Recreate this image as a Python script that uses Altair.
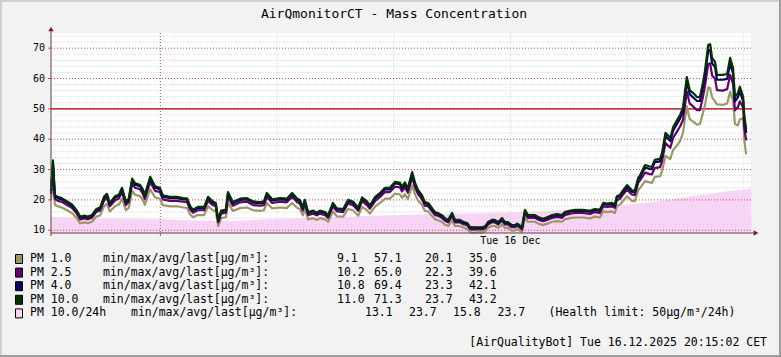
import altair as alt
import pandas as pd

# ---------------- data ----------------
# minutes since the start of the window (Mon 15.12.2025 20:15)
minutes = [
    0, 4, 8, 14, 23, 33, 43, 53, 60, 70,
    76, 84, 93, 101, 109, 115, 121, 132, 140, 146,
    154, 160, 167, 173, 183, 189, 193, 204, 214, 224,
    230, 245, 259, 272, 280, 286, 292, 302, 315, 323,
    333, 339, 344, 350, 360, 364, 374, 389, 403, 416,
    430, 438, 444, 455, 471, 485, 496, 506, 512, 518,
    522, 529, 539, 547, 553, 564, 570, 580, 588, 601,
    611, 621, 632, 640, 650, 656, 667, 677, 687, 697,
    708, 718, 722, 728, 734, 743, 749, 755, 763, 769,
    776, 782, 790, 796, 804, 810, 817, 825, 831, 841,
    848, 856, 862, 868, 878, 887, 893, 899, 907, 913,
    920, 928, 934, 940, 948, 954, 959, 969, 975, 981,
    996, 1002, 1012, 1022, 1031, 1041, 1051, 1057, 1068, 1078,
    1094, 1109, 1119, 1129, 1136, 1144, 1154, 1160, 1164, 1170,
    1177, 1185, 1195, 1201, 1208, 1212, 1222, 1232, 1236, 1242,
    1253, 1257, 1264, 1274, 1280, 1288, 1294, 1300, 1308, 1314,
    1321, 1329, 1335, 1341, 1345, 1352, 1356, 1360, 1366, 1370,
    1382, 1391, 1397, 1403, 1407, 1413, 1417, 1424, 1426, 1430,
]

pm10_0 = [
    23.3, 33.0, 21.6, 21.0, 20.5, 19.5, 18.5, 16.5, 14.5, 14.8,
    14.5, 15.0, 17.0, 17.5, 21.0, 22.0, 19.0, 21.2, 21.8, 24.0,
    19.5, 20.5, 27.0, 25.5, 25.0, 23.5, 21.6, 27.6, 24.5, 24.0,
    21.5, 21.0, 21.0, 20.6, 20.5, 18.0, 16.8, 17.7, 17.7, 21.0,
    19.5, 19.0, 13.4, 16.5, 16.8, 22.6, 19.3, 20.4, 20.6, 19.5,
    19.3, 19.5, 22.3, 20.2, 20.6, 20.4, 22.3, 20.5, 20.0, 17.5,
    20.0, 16.0, 16.5, 15.8, 16.5, 16.0, 15.0, 19.0, 17.2, 17.0,
    20.0, 19.5, 17.4, 20.8, 19.5, 18.2, 21.0, 22.3, 24.0, 24.0,
    26.0, 25.6, 24.3, 25.8, 23.8, 29.2, 25.6, 23.3, 21.6, 19.3,
    19.0, 17.7, 16.0, 15.7, 15.0, 14.0, 13.4, 15.7, 13.4, 13.4,
    12.8, 12.4, 11.1, 11.0, 11.0, 11.0, 11.3, 12.7, 13.4, 13.4,
    12.7, 14.0, 12.7, 12.7, 11.7, 11.7, 12.2, 11.0, 16.7, 15.0,
    15.0, 14.4, 13.8, 14.4, 15.0, 15.3, 15.0, 16.0, 16.5, 16.7,
    16.7, 16.4, 17.0, 16.7, 19.0, 18.8, 19.0, 18.5, 21.2, 21.6,
    23.2, 24.9, 23.2, 23.0, 27.3, 28.2, 31.5, 31.0, 30.9, 33.2,
    33.5, 35.5, 42.1, 40.4, 44.0, 46.3, 48.0, 50.3, 60.5, 56.2,
    55.2, 53.9, 53.9, 58.5, 62.2, 71.1, 71.3, 66.8, 65.5, 61.2,
    61.2, 61.5, 66.8, 63.5, 53.9, 55.2, 57.3, 53.9, 48.0, 43.2,
]

pm4_0 = [
    22.9, 32.3, 21.2, 20.6, 20.1, 19.1, 18.1, 16.2, 14.2, 14.5,
    14.2, 14.7, 16.7, 17.2, 20.6, 21.6, 18.6, 20.8, 21.4, 23.5,
    19.1, 20.1, 26.5, 25.0, 24.5, 23.0, 21.2, 27.0, 24.0, 23.5,
    21.1, 20.6, 20.6, 20.2, 20.1, 17.6, 16.5, 17.3, 17.3, 20.6,
    19.1, 18.6, 13.1, 16.2, 16.5, 22.1, 18.9, 20.0, 20.2, 19.1,
    18.9, 19.1, 21.9, 19.8, 20.2, 20.0, 21.9, 20.1, 19.6, 17.2,
    19.6, 15.7, 16.2, 15.5, 16.2, 15.7, 14.7, 18.6, 16.9, 16.7,
    19.6, 19.1, 17.1, 20.4, 19.1, 17.8, 20.6, 21.9, 23.5, 23.5,
    25.5, 25.1, 23.8, 25.3, 23.3, 28.6, 25.1, 22.8, 21.2, 18.9,
    18.6, 17.3, 15.7, 15.4, 14.7, 13.7, 13.1, 15.4, 13.1, 13.1,
    12.5, 12.2, 10.9, 10.8, 10.8, 10.8, 11.1, 12.4, 13.1, 13.1,
    12.4, 13.7, 12.4, 12.4, 11.5, 11.5, 12.0, 10.8, 16.4, 14.7,
    14.7, 14.1, 13.5, 14.1, 14.7, 15.0, 14.7, 15.7, 16.2, 16.4,
    16.4, 16.1, 16.7, 16.4, 18.6, 18.4, 18.6, 18.1, 20.8, 21.2,
    22.7, 24.4, 22.7, 22.5, 26.8, 27.6, 30.7, 30.2, 30.1, 32.4,
    32.7, 34.6, 41.0, 39.4, 42.9, 45.1, 46.8, 49.0, 59.0, 54.8,
    53.8, 52.6, 52.6, 57.0, 60.6, 69.3, 69.4, 65.0, 63.8, 59.6,
    59.6, 59.9, 65.0, 61.8, 52.5, 53.8, 55.8, 52.5, 46.8, 42.1,
]

pm2_5 = [
    21.9, 30.8, 20.3, 19.7, 19.3, 18.3, 17.4, 15.5, 13.6, 13.9,
    13.6, 14.1, 16.0, 16.5, 19.7, 20.7, 17.9, 19.9, 20.5, 22.6,
    18.3, 19.3, 25.4, 24.0, 23.5, 22.1, 20.3, 25.9, 23.0, 22.6,
    20.2, 19.7, 19.7, 19.4, 19.3, 16.9, 15.8, 16.6, 16.6, 19.7,
    18.3, 17.9, 12.6, 15.5, 15.8, 21.2, 18.1, 19.2, 19.4, 18.3,
    18.1, 18.3, 21.0, 19.0, 19.4, 19.2, 21.0, 19.3, 18.8, 16.5,
    18.8, 15.0, 15.5, 14.9, 15.5, 15.0, 14.1, 17.9, 16.2, 16.0,
    18.8, 18.3, 16.4, 19.6, 18.3, 17.1, 19.7, 21.0, 22.6, 22.6,
    24.4, 24.1, 22.8, 24.3, 22.4, 27.4, 24.1, 21.9, 20.3, 18.1,
    17.9, 16.6, 15.0, 14.8, 14.1, 13.2, 12.6, 14.8, 12.6, 12.6,
    12.0, 11.7, 10.4, 10.2, 10.3, 10.3, 10.6, 11.9, 12.6, 12.6,
    11.9, 13.2, 11.9, 11.9, 11.0, 11.0, 11.5, 10.3, 15.7, 14.1,
    14.1, 13.5, 13.0, 13.5, 14.1, 14.4, 14.1, 15.0, 15.5, 15.7,
    15.7, 15.4, 16.0, 15.7, 17.9, 17.7, 17.9, 17.4, 19.9, 20.3,
    21.8, 23.4, 21.8, 21.6, 25.7, 26.5, 29.0, 28.5, 28.4, 30.5,
    30.8, 32.7, 38.7, 37.2, 40.5, 42.6, 44.2, 46.3, 55.7, 51.7,
    50.8, 49.6, 49.6, 53.8, 57.2, 64.8, 65.0, 61.0, 59.9, 56.2,
    56.0, 56.5, 61.2, 58.3, 49.5, 50.6, 52.5, 50.5, 44.0, 39.6,
]

pm1_0 = [
    19.8, 27.9, 18.4, 17.9, 17.4, 16.6, 15.7, 14.0, 12.3, 12.6,
    12.3, 12.8, 14.5, 14.9, 17.9, 18.7, 16.2, 18.0, 18.5, 20.4,
    16.6, 17.4, 23.0, 21.7, 21.3, 20.0, 18.4, 23.5, 20.8, 20.4,
    18.3, 17.9, 17.9, 17.5, 17.4, 15.3, 14.3, 15.0, 15.0, 17.9,
    16.6, 16.2, 11.4, 14.0, 14.3, 19.2, 16.4, 17.3, 17.5, 16.6,
    16.4, 16.6, 19.0, 17.2, 17.5, 17.3, 19.0, 17.4, 17.0, 14.9,
    17.0, 13.6, 14.0, 13.4, 14.0, 13.6, 12.8, 16.2, 14.6, 14.5,
    17.0, 16.6, 14.8, 17.7, 16.6, 15.5, 17.9, 19.0, 20.4, 20.4,
    22.1, 21.8, 20.7, 21.9, 20.2, 24.8, 21.8, 19.8, 18.4, 16.4,
    16.2, 15.0, 13.6, 13.3, 12.8, 11.9, 11.4, 13.3, 11.4, 11.4,
    10.9, 10.5, 9.4, 9.1, 9.3, 9.3, 9.6, 10.8, 11.4, 11.4,
    10.8, 11.9, 10.8, 10.8, 9.9, 9.9, 10.4, 9.4, 14.2, 12.8,
    12.8, 12.2, 11.7, 12.2, 12.8, 13.0, 12.8, 13.6, 14.0, 14.2,
    14.2, 13.9, 14.5, 14.2, 16.2, 16.0, 16.2, 15.7, 18.0, 18.4,
    19.7, 21.2, 19.7, 19.6, 23.2, 24.0, 26.2, 25.8, 25.6, 27.6,
    27.8, 29.5, 34.5, 33.5, 36.5, 38.0, 39.4, 42.0, 50.8, 46.6,
    45.8, 44.8, 45.0, 48.6, 51.0, 57.1, 56.8, 53.8, 52.5, 51.5,
    51.3, 51.8, 55.6, 53.0, 45.0, 44.6, 46.5, 47.0, 40.0, 35.0,
]

# 24h rolling average of PM 10.0 (pink area)
avg_minutes = [0, 100, 224, 300, 380, 450, 550, 650, 720, 800,
               900, 1000, 1080, 1140, 1180, 1250, 1320, 1380, 1440]
pm10_24h = [14.4, 14.0, 13.6, 13.2, 13.1, 13.6, 14.2, 14.7, 15.0, 15.4,
            15.7, 16.2, 16.8, 17.6, 18.3, 19.6, 21.3, 22.6, 23.7]

health_limit = [50]

# axis ticks / grid (minutes since start; 00:00 = 225)
y_bottom = 9.1
y_top = 75
y_major = [10, 20, 30, 40, 50, 60, 70]
y_major_labels = ["10", "20", "30", "40", "50", "60", "70"]
y_minor = [v for v in range(10, 76, 2) if v % 10 != 0]
x_major = [225]                        # Tue 16 Dec 00:00
x_minor = [465, 705, 945, 1185, 1425]  # 04:00 08:00 12:00 16:00 20:00
x_label_pos = [945]
x_labels = ["Tue 16 Dec"]

title_text = "AirQmonitorCT - Mass Concentration"
legend_names = ["PM 1.0", "PM 2.5", "PM 4.0", "PM 10.0", "PM 10.0/24h"]
legend_unit = "min/max/avg/last[µg/m³]:"
legend_stats = [
    ["9.1", "57.1", "20.1", "35.0"],
    ["10.2", "65.0", "22.3", "39.6"],
    ["10.8", "69.4", "23.3", "42.1"],
    ["11.0", "71.3", "23.7", "43.2"],
    ["13.1", "23.7", "15.8", "23.7"],
]
health_note = "(Health limit: 50µg/m³/24h)"
footer_text = "[AirQualityBot] Tue 16.12.2025 20:15:02 CET"

# ---------------- styling / layout ----------------
COL_PM1 = "#999966"
COL_PM25 = "#660066"
COL_PM4 = "#000066"
COL_PM10 = "#003300"
COL_AVG = "#FAD4F7"
legend_colors = [COL_PM1, COL_PM25, COL_PM4, COL_PM10, COL_AVG]
MINOR = "#DCDCDC"
MAJOR = "#E04848"
HRULE = "#B00000"
AXIS = "#5A4048"
ARROW = "#8B1A1A"
MONO = "DejaVu Sans Mono"

W, H = 700, 200
PAD_L, PAD_T, PAD_R, PAD_B = 51, 33, 30, 124

xs = alt.Scale(domain=[0, 1440], nice=False, zero=False)
ys = alt.Scale(domain=[y_bottom, y_top], nice=False, zero=False)
one = pd.DataFrame({"k": [0]})


def X(field="minute"):
    return alt.X(f"{field}:Q", scale=xs, axis=None)


def Y(field="value"):
    return alt.Y(f"{field}:Q", scale=ys, axis=None)


def hrules(values, color, dash=None, width=1):
    kw = dict(color=color, strokeWidth=width)
    if dash:
        kw["strokeDash"] = dash
    return alt.Chart(pd.DataFrame({"value": values})).mark_rule(**kw).encode(
        y=Y(), x=alt.value(0), x2=alt.value(W + 1))


def vrules(values, color, dash=None, width=1):
    kw = dict(color=color, strokeWidth=width)
    if dash:
        kw["strokeDash"] = dash
    return alt.Chart(pd.DataFrame({"minute": values})).mark_rule(**kw).encode(
        x=X(), y=alt.value(0), y2=alt.value(H))


def px_rule(x1, y1, x2, y2, color, width=1):
    return alt.Chart(one).mark_rule(color=color, strokeWidth=width).encode(
        x=alt.value(x1), y=alt.value(y1), x2=alt.value(x2), y2=alt.value(y2))


def px_text(s, x, y, size=11.5, align="left", color="#000000"):
    return alt.Chart(pd.DataFrame({"t": [s]})).mark_text(
        align=align, baseline="middle", font=MONO, fontSize=size, color=color
    ).encode(x=alt.value(x), y=alt.value(y), text="t:N")


def series_line(values, color):
    df = pd.DataFrame({"minute": minutes, "value": values})
    return alt.Chart(df).mark_line(color=color, strokeWidth=2.2, strokeJoin="round").encode(
        x=X(), y=Y())


layers = []

# frame of the image
layers.append(px_rule(-PAD_L, -PAD_T + 1, W + PAD_R, -PAD_T + 1, "#CFCFCF", 2))
layers.append(px_rule(-PAD_L + 1, -PAD_T, -PAD_L + 1, H + PAD_B, "#CFCFCF", 2))
layers.append(px_rule(W + PAD_R - 1, -PAD_T, W + PAD_R - 1, H + PAD_B, "#9E9E9E", 2))
layers.append(px_rule(-PAD_L, H + PAD_B - 1, W + PAD_R, H + PAD_B - 1, "#9E9E9E", 2))

# pink 24h average area, filled down to the bottom of the plot
avg_df = pd.DataFrame({"minute": avg_minutes, "value": pm10_24h})
layers.append(alt.Chart(avg_df).mark_area(color=COL_AVG, opacity=1, clip=True).encode(
    x=X(), y=Y(), y2=alt.datum(y_bottom)))

# grid
layers.append(hrules(y_minor, MINOR, [1, 1]))
layers.append(vrules(x_minor, MINOR, [1, 1]))
layers.append(hrules(y_major, MAJOR, [1, 2], 1))
layers.append(vrules(x_major, MAJOR, [1, 2], 1))

# health limit rule
layers.append(hrules(health_limit, HRULE, None, 1.3))

# series
layers.append(series_line(pm1_0, COL_PM1))
layers.append(series_line(pm2_5, COL_PM25))
layers.append(series_line(pm4_0, COL_PM4))
layers.append(series_line(pm10_0, COL_PM10))

# axes
layers.append(px_rule(0, H, W + 4, H, AXIS, 1))
layers.append(px_rule(0, -3, 0, H + 3, AXIS, 1))
layers.append(alt.Chart(one).mark_point(shape="triangle-right", filled=True, size=30,
                                        color=ARROW, opacity=1).encode(
    x=alt.value(W + 5), y=alt.value(H)))
layers.append(alt.Chart(one).mark_point(shape="triangle-up", filled=True, size=30,
                                        color=ARROW, opacity=1).encode(
    x=alt.value(0), y=alt.value(-4)))

# tick marks
layers.append(alt.Chart(pd.DataFrame({"value": y_major})).mark_rule(
    color=MAJOR, strokeWidth=1).encode(y=Y(), x=alt.value(-3), x2=alt.value(0)))
layers.append(alt.Chart(pd.DataFrame({"minute": x_major})).mark_rule(
    color=MAJOR, strokeWidth=1).encode(x=X(), y=alt.value(H), y2=alt.value(H + 3)))

# axis labels
layers.append(alt.Chart(pd.DataFrame({"value": y_major, "label": y_major_labels})).mark_text(
    align="right", baseline="middle", font=MONO, fontSize=10, color="#000000").encode(
    y=Y(), x=alt.value(-6), text="label:N"))
layers.append(alt.Chart(pd.DataFrame({"minute": x_label_pos, "label": x_labels})).mark_text(
    align="center", baseline="middle", font=MONO, fontSize=10, color="#000000").encode(
    x=X(), y=alt.value(H + 8), text="label:N"))

# title
layers.append(px_text(title_text, 343, -19.5, size=13, align="center"))

# legend
row_y = [226 + i * 13.6 for i in range(5)]
for i, name in enumerate(legend_names):
    y = row_y[i]
    layers.append(alt.Chart(one).mark_rect(fill=legend_colors[i], stroke="#000000",
                                           strokeWidth=1).encode(
        x=alt.value(-35.5), x2=alt.value(-28.5), y=alt.value(y - 4.5), y2=alt.value(y + 4.5)))
    layers.append(px_text(name, -21, y))
    if i < 4:
        layers.append(px_text(legend_unit, 52, y))
        for s, xx in zip(legend_stats[i], [286, 323, 374, 418]):
            layers.append(px_text(s, xx, y))
    else:
        layers.append(px_text(legend_unit, 80, y))
        for s, xx in zip(legend_stats[i], [314, 358, 402, 446.5]):
            layers.append(px_text(s, xx, y))
        layers.append(px_text(health_note, 497.5, y))

layers.append(px_text(footer_text, 716, 310, align="right"))

chart = alt.layer(*layers).properties(
    width=W, height=H,
    autosize=alt.AutoSizeParams(type="none"),
    padding={"left": PAD_L, "top": PAD_T, "right": PAD_R, "bottom": PAD_B},
    background="#F2F2F2",
).configure_view(fill="#FFFFFF", strokeWidth=0)

chart.save("out.html", embed_options={"renderer": "svg", "actions": False})
